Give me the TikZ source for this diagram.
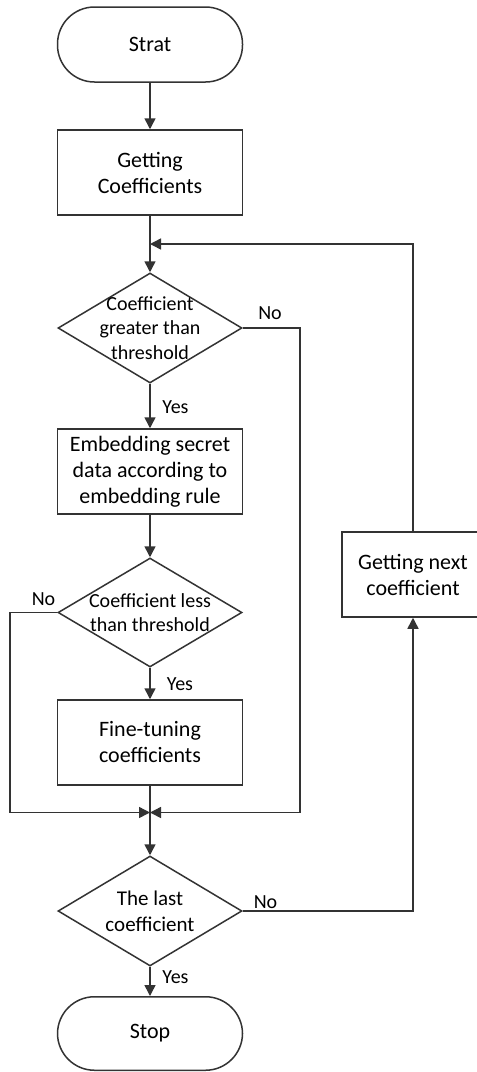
\documentclass[tikz,border=0pt]{standalone}
\usepackage{fontspec}
\setmainfont{Carlito}
\usetikzlibrary{arrows.meta,shapes.geometric}
\definecolor{ln}{HTML}{333333}
\begin{document}
\begin{tikzpicture}[x=1pt,y=-1pt,
  line width=1.5pt,
  term/.style={draw=ln,rectangle,rounded corners=37pt,minimum width=185pt,minimum height=75pt,inner sep=0pt,align=center,font=\fontsize{22}{26}\selectfont},
  procbox/.style={draw=ln,rectangle,minimum width=185pt,minimum height=85pt,inner sep=0pt,align=center,font=\fontsize{22}{26}\selectfont},
  dec/.style={draw=ln,diamond,minimum width=184pt,minimum height=110pt,inner sep=0pt},
  dtxt/.style={align=center,inner sep=0pt,font=\fontsize{20}{24.5}\selectfont},
  lab/.style={inner sep=0pt,font=\fontsize{20}{24}\selectfont},
  arr/.style={draw=ln,-{Triangle[length=11pt,width=11pt]}}
]
\useasboundingbox (0,0) rectangle (477,1072);
\fill[white] (0,0) rectangle (477,1072);
\clip (0,0) rectangle (477,1072);

\node[term] (start) at (150,44.5) {Strat};
\node[procbox] (get) at (150,172.5) {Getting\\Coefficients};
\node[dec] (d1) at (150,328) {};
\node[dtxt] (d1t) at (150,328) {Coefficient\\greater than\\threshold};
\node[procbox] (emb) at (150,471.5) {Embedding secret\\data according to\\embedding rule};
\node[dec,minimum height=109pt] (d2) at (150,612.5) {};
\node[dtxt] (d2t) at (150,612.5) {Coefficient less\\than threshold};
\node[procbox] (fine) at (150,742.5) {Fine-tuning\\coefficients};
\node[dec] (d3) at (150,911) {};
\node[dtxt,font=\fontsize{21}{26}\selectfont] (d3t) at (150,911) {The last\\coefficient};
\node[term,minimum height=73.5pt] (stop) at (150,1033.5) {Stop};
\node[procbox,minimum width=142pt] (next) at (413,574.5) {Getting next\\coefficient};

\coordinate (m1) at (150,244);
\coordinate (m2) at (150,812.5);

\node[lab] (no1) at (270,313) {No};
\node[lab] (yes1) at (175.5,407) {Yes};
\node[lab] (no2) at (43.5,599) {No};
\node[lab] (yes2) at (180,684) {Yes};
\node[lab] (no3) at (265.5,902) {No};
\node[lab] (yes3) at (175.5,977) {Yes};

\draw[arr] (start) -- (get);
\draw[arr] (get) -- (d1);
\draw[arr] (d1) -- (emb);
\draw[arr] (emb) -- (d2);
\draw[arr] (d2) -- (fine);
\draw[arr] (fine) -- (d3);
\draw[arr] (d3) -- (stop);
\draw[arr] (next.north) |- (m1);
\draw[arr] (d1.east) -| (300,812.5) -- (m2);
\draw[arr] (d2.west) -| (10,812.5) -- (m2);
\draw[arr] (d3.east) -| (next.south);
\end{tikzpicture}
\end{document}
